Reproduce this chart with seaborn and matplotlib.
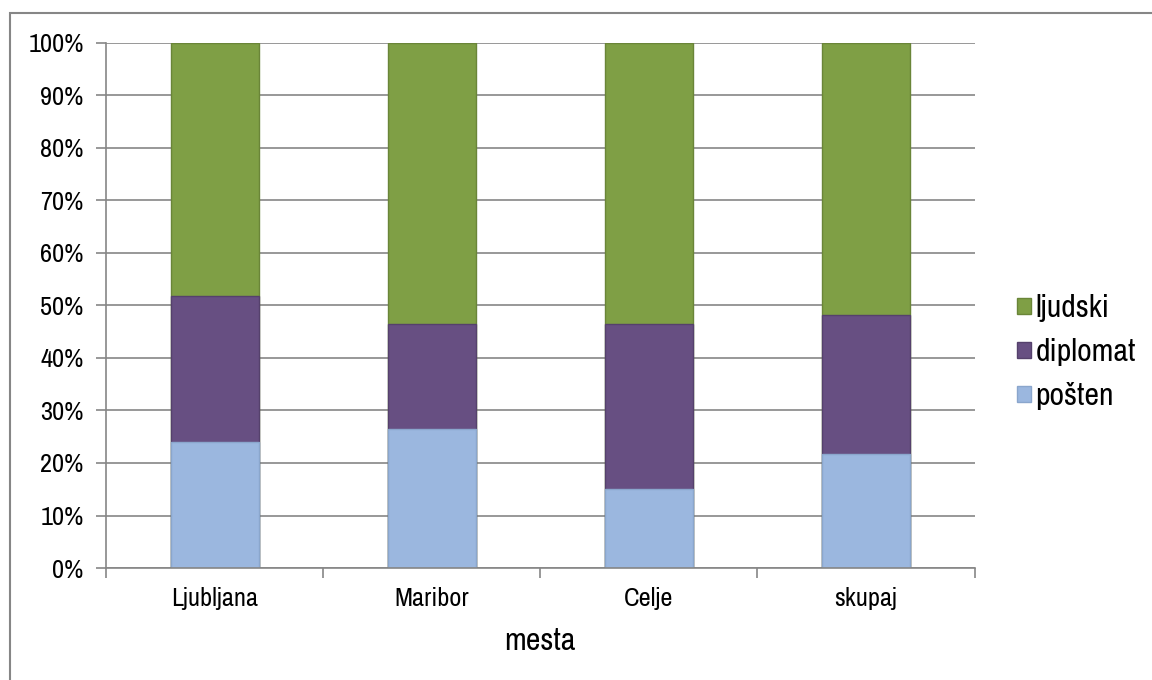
import numpy as np
import pandas as pd
import matplotlib
matplotlib.use("Agg")
import matplotlib.pyplot as plt
import seaborn as sns
from matplotlib.patches import Patch, Rectangle
from matplotlib.ticker import PercentFormatter, FixedLocator

# values (percent of each bar)
categories = ["Ljubljana", "Maribor", "Celje", "skupaj"]
posten = [24.0, 26.5, 15.0, 21.7]
diplomat = [27.8, 20.0, 31.5, 26.5]
ljudski = [48.2, 53.5, 53.5, 51.8]

series_names = ["ljudski", "diplomat", "pošten"]
colors = {"ljudski": "#7F9F45", "diplomat": "#674F82", "pošten": "#9BB7DF"}
edges = {"ljudski": "#6A8538", "diplomat": "#55416C", "pošten": "#8AA6CC"}

df = pd.DataFrame({"mesto": categories, "pošten": posten,
                   "diplomat": diplomat, "ljudski": ljudski})
# cumulative tops for stacking
df["top_posten"] = df["pošten"]
df["top_diplomat"] = df["pošten"] + df["diplomat"]
df["top_ljudski"] = df["top_diplomat"] + df["ljudski"]

sns.set_style("white")
# the reference text is horizontally squeezed, a narrow face matches it best
plt.rcParams["font.family"] = ["Archivo Narrow", "Liberation Sans", "DejaVu Sans"]
plt.rcParams["text.color"] = "black"
plt.rcParams["axes.labelcolor"] = "black"

fig = plt.figure(figsize=(11.52, 6.8), dpi=100)
ax = fig.add_axes([0.092, 0.1647, 0.754, 0.7721])

gray = "#868686"
ax.set_axisbelow(True)
ax.yaxis.grid(True, color=gray, linewidth=1.2)

for name, col in [("ljudski", "top_ljudski"), ("diplomat", "top_diplomat"), ("pošten", "top_posten")]:
    sns.barplot(data=df, x="mesto", y=col, color=colors[name], width=0.405,
                edgecolor=edges[name], linewidth=1.0, saturation=1, ax=ax, zorder=2)

ax.set_xlim(-0.5, 3.5)
ax.set_ylim(0, 100)
ax.yaxis.set_major_locator(FixedLocator(np.arange(0, 101, 10)))
ax.yaxis.set_major_formatter(PercentFormatter(decimals=0))

for s in ["top", "right"]:
    ax.spines[s].set_visible(False)
for s in ["left", "bottom"]:
    ax.spines[s].set_color(gray)
    ax.spines[s].set_linewidth(1.2)

ax.tick_params(axis="y", length=7, width=1.2, color=gray, pad=9, left=True,
               labelsize=19, labelcolor="black")
ax.tick_params(axis="x", which="major", length=0, pad=14, labelsize=19, labelcolor="black")
ax.set_xticks(np.arange(-0.5, 4, 1), minor=True)
ax.tick_params(axis="x", which="minor", length=7, width=1.2, color=gray, bottom=True)

ax.set_ylabel("")
ax.set_xlabel("mesta", fontsize=23, labelpad=12, color="black")

handles = [Patch(facecolor=colors[n], edgecolor=edges[n]) for n in series_names]
fig.legend(handles, series_names, loc="center left", bbox_to_anchor=(0.858, 0.482),
           frameon=False, fontsize=23, handlelength=0.42, handleheight=0.42,
           handletextpad=0.15, labelspacing=0.5, labelcolor="black")

# outer chart frame (runs off the right and bottom edges like the reference)
fig.patches.append(Rectangle((10 / 1152, -0.05), 1.2, 1 - 13 / 680 + 0.05,
                             transform=fig.transFigure, fill=False,
                             edgecolor=gray, linewidth=1.5))

fig.savefig("out.png", dpi=100)
